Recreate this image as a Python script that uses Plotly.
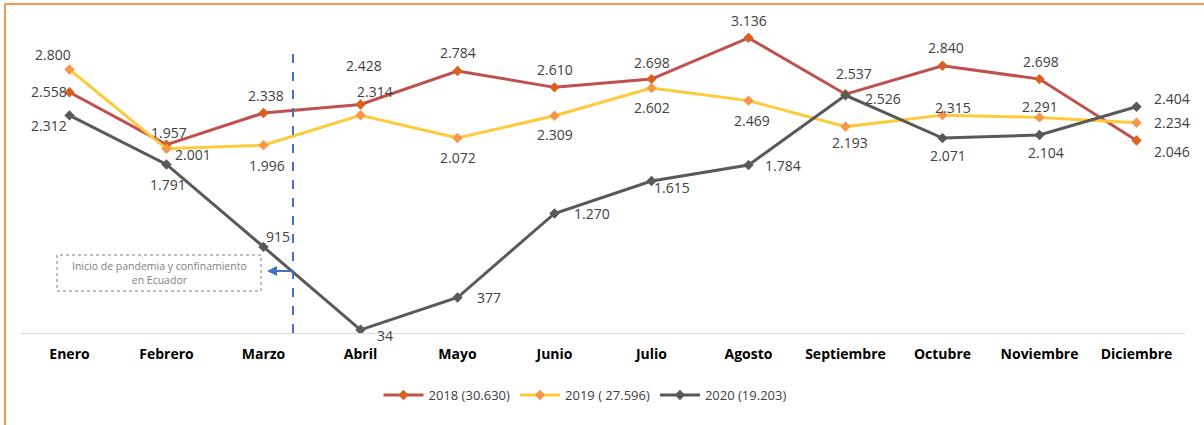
import plotly.graph_objects as go

months = ["Enero", "Febrero", "Marzo", "Abril", "Mayo", "Junio", "Julio",
          "Agosto", "Septiembre", "Octubre", "Noviembre", "Diciembre"]
v2018 = [2558, 2001, 2338, 2428, 2784, 2610, 2698, 3136, 2537, 2840, 2698, 2046]
v2019 = [2800, 1957, 1996, 2314, 2072, 2309, 2602, 2469, 2193, 2315, 2291, 2234]
v2020 = [2312, 1791, 915, 34, 377, 1270, 1615, 1784, 2526, 2071, 2104, 2404]
names = ["2018 (30.630)", "2019 ( 27.596)", "2020 (19.203)"]
annot_text = "Inicio de pandemia y confinamiento<br>en Ecuador"

# label offsets in pixels (dx right, dy down)
off2018 = [(-21, -1), (26, 10), (2, -17), (3, -39), (0, -18), (0, -18), (0, -17),
           (0, -17), (8, -21), (3, -18), (1, -18), (35, 11)]
off2019 = [(-17, -15), (2, -16), (3, 20), (14, -24), (0, 19), (0, 19), (0, 19),
           (3, 20), (4, 16), (10, -8), (0, -11), (35, 0)]
off2020 = [(-21, 10), (1, 20), (14, -10), (24, 6), (31, 0), (37, 0), (20, 6),
           (34, 0), (37, 3), (5, 17), (6, 18), (35, -8)]

W, H = 1204, 425
L, R, T, B = 21, 19, 10, 92
YMAX = 3432
pw, ph = W - L - R, H - T - B

def px_x(p):
    return (p - L) / pw

def px_y(p):
    return (H - B - p) / ph

def fmt(v):
    return f"{v:,}".replace(",", ".")

series = [
    (v2018, names[0], "#C0504D", "#D9601F", off2018),
    (v2019, names[1], "#FFCA3A", "#F79646", off2019),
    (v2020, names[2], "#595959", "#595959", off2020),
]

xs = list(range(len(months)))
fig = go.Figure()
annotations = []
for vals, name, lc, mc, offs in series:
    fig.add_trace(go.Scatter(
        x=xs, y=vals, name=name, mode="lines+markers",
        line=dict(color=lc, width=3),
        marker=dict(symbol="diamond", size=8, color=mc),
    ))
    for xi, v, (dx, dy) in zip(xs, vals, offs):
        annotations.append(dict(
            x=xi, y=v, xref="x", yref="y", text=fmt(v), showarrow=False,
            xanchor="center", yanchor="middle",
            xshift=dx, yshift=-dy,
            font=dict(family="Open Sans", size=14, color="#404040"),
        ))

# pandemic annotation text
annotations.append(dict(
    x=px_x(159), y=px_y(273), xref="paper", yref="paper",
    xanchor="center", yanchor="middle",
    text=annot_text, showarrow=False, align="center",
    font=dict(family="Open Sans", size=10.5, color="#7F7F7F"),
))
# arrow
annotations.append(dict(
    x=px_x(267), y=px_y(271), xref="paper", yref="paper",
    ax=25, ay=0,
    showarrow=True, arrowhead=2, arrowsize=1, arrowwidth=2, arrowcolor="#4472C4",
    text="",
))

shapes = [
    # dashed vertical line
    dict(type="line", xref="paper", yref="paper",
         x0=px_x(293), x1=px_x(293), y0=0, y1=px_y(52),
         line=dict(color="#4472C4", width=2, dash="dash")),
    # dotted text box
    dict(type="rect", xref="paper", yref="paper",
         x0=px_x(57), x1=px_x(261), y0=px_y(291), y1=px_y(255),
         line=dict(color="#7F7F7F", width=1, dash="dot")),
    # orange frame: top and left
    dict(type="line", xref="paper", yref="paper",
         x0=px_x(5), x1=px_x(1204), y0=px_y(4), y1=px_y(4),
         line=dict(color="#F79646", width=2)),
    dict(type="line", xref="paper", yref="paper",
         x0=px_x(5), x1=px_x(5), y0=px_y(425), y1=px_y(4),
         line=dict(color="#F79646", width=2)),
]

fig.update_layout(
    width=W, height=H,
    margin=dict(l=L, r=R, t=T, b=B),
    paper_bgcolor="white", plot_bgcolor="white",
    showlegend=True,
    legend=dict(orientation="h", x=px_x(585), xanchor="center",
                y=px_y(395), yanchor="middle",
                font=dict(family="Open Sans", size=13, color="#404040"),
                itemwidth=40, tracegroupgap=0),
    xaxis=dict(range=[-0.5, 11.5], tickvals=xs, ticktext=months,
               showgrid=False, zeroline=False, showline=True,
               linecolor="#D9D9D9", linewidth=1, ticks="",
               ticklabelstandoff=8,
               tickfont=dict(family="Open Sans", size=14, color="#000000",
                             weight="bold")),
    yaxis=dict(range=[0, YMAX], showgrid=False, zeroline=False,
               showticklabels=False, showline=False),
    annotations=annotations,
    shapes=shapes,
)

fig.write_html("out.html",
               config={"displayModeBar": False},
               post_script="document.body.style.margin='0';document.body.style.overflow='hidden';")
